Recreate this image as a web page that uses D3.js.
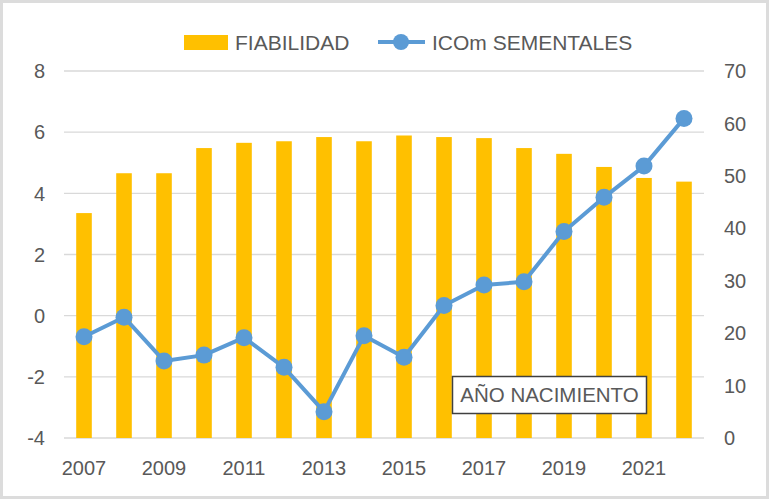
<!DOCTYPE html>
<html>
<head>
<meta charset="utf-8">
<script src="https://cdn.jsdelivr.net/npm/d3@7"></script>
<style>
  body { margin: 0; background: #fff; }
  svg { display: block; }
  text { font-family: "Liberation Sans", Arial, sans-serif; fill: #595959; }
</style>
</head>
<body>
<svg width="769" height="500"></svg>
<script>
const years = [2007, 2008, 2009, 2010, 2011, 2012, 2013, 2014, 2015, 2016, 2017, 2018, 2019, 2020, 2021, 2022];
const fiabilidad = [42.9, 50.5, 50.5, 55.3, 56.3, 56.6, 57.4, 56.6, 57.7, 57.4, 57.2, 55.3, 54.2, 51.7, 49.6, 48.9];
const icom = [-0.69, -0.05, -1.48, -1.29, -0.72, -1.69, -3.14, -0.66, -1.36, 0.33, 1.0, 1.11, 2.75, 3.87, 4.89, 6.45];
const leftTicks = [-4, -2, 0, 2, 4, 6, 8];
const rightTicks = [0, 10, 20, 30, 40, 50, 60, 70];
const yearLabels = [2007, 2009, 2011, 2013, 2015, 2017, 2019, 2021];

const svg = d3.select("svg");

svg.append("rect")
  .attr("x", 1.5).attr("y", 1.5)
  .attr("width", 766).attr("height", 496)
  .attr("fill", "#fff")
  .attr("stroke", "#dcdcdc")
  .attr("stroke-width", 3);

const x = d3.scaleBand()
  .domain(years)
  .range([64, 704])
  .paddingInner(0.61)
  .paddingOuter(0.305);

const yLeft = d3.scaleLinear().domain([-4, 8]).range([438, 71]);
const yRight = d3.scaleLinear().domain([0, 70]).range([438, 71]);

// gridlines
svg.append("g")
  .selectAll("line")
  .data(leftTicks)
  .join("line")
  .attr("x1", 64).attr("x2", 704)
  .attr("y1", d => yLeft(d)).attr("y2", d => yLeft(d))
  .attr("stroke", "#d9d9d9")
  .attr("stroke-width", 1.3);

// bars
svg.append("g")
  .selectAll("rect")
  .data(years)
  .join("rect")
  .attr("x", d => x(d))
  .attr("width", x.bandwidth())
  .attr("y", (d, i) => yRight(fiabilidad[i]))
  .attr("height", (d, i) => yRight(0) - yRight(fiabilidad[i]))
  .attr("fill", "#ffc000");

// line
const line = d3.line()
  .x((d, i) => x(years[i]) + x.bandwidth() / 2)
  .y(d => yLeft(d));

svg.append("path")
  .datum(icom)
  .attr("d", line)
  .attr("fill", "none")
  .attr("stroke", "#5b9bd5")
  .attr("stroke-width", 4)
  .attr("stroke-linejoin", "round");

svg.append("g")
  .selectAll("circle")
  .data(icom)
  .join("circle")
  .attr("cx", (d, i) => x(years[i]) + x.bandwidth() / 2)
  .attr("cy", d => yLeft(d))
  .attr("r", 8.5)
  .attr("fill", "#5b9bd5");

// left axis labels
svg.append("g")
  .selectAll("text")
  .data(leftTicks)
  .join("text")
  .attr("x", 45)
  .attr("y", d => yLeft(d))
  .attr("dy", "0.36em")
  .attr("text-anchor", "end")
  .style("font-size", "20px")
  .text(d => d < 0 ? "-" + Math.abs(d) : d);

// right axis labels
svg.append("g")
  .selectAll("text")
  .data(rightTicks)
  .join("text")
  .attr("x", 724)
  .attr("y", d => yRight(d))
  .attr("dy", "0.36em")
  .attr("text-anchor", "start")
  .style("font-size", "20px")
  .text(d => d);

// bottom labels, every second year under its bar
svg.append("g")
  .selectAll("text")
  .data(yearLabels)
  .join("text")
  .attr("x", d => x(d) + x.bandwidth() / 2)
  .attr("y", 475)
  .attr("text-anchor", "middle")
  .style("font-size", "20px")
  .text(d => d);

// legend
const legend = svg.append("g");
legend.append("rect")
  .attr("x", 184).attr("y", 35)
  .attr("width", 44).attr("height", 15)
  .attr("fill", "#ffc000");
legend.append("text")
  .attr("x", 235).attr("y", 50)
  .style("font-size", "21px")
  .text("FIABILIDAD");
legend.append("line")
  .attr("x1", 378).attr("x2", 425)
  .attr("y1", 42).attr("y2", 42)
  .attr("stroke", "#5b9bd5")
  .attr("stroke-width", 4);
legend.append("circle")
  .attr("cx", 401).attr("cy", 42)
  .attr("r", 8)
  .attr("fill", "#5b9bd5");
legend.append("text")
  .attr("x", 432).attr("y", 50)
  .style("font-size", "21px")
  .text("ICOm SEMENTALES");

// axis title box
const box = svg.append("g");
box.append("rect")
  .attr("x", 452.5).attr("y", 376.5)
  .attr("width", 194).attr("height", 37)
  .attr("fill", "#fff")
  .attr("stroke", "#404040")
  .attr("stroke-width", 1.5);
box.append("text")
  .attr("x", 549.5).attr("y", 402)
  .attr("text-anchor", "middle")
  .style("font-size", "20.5px")
  .text("AÑO NACIMIENTO");
</script>
</body>
</html>
